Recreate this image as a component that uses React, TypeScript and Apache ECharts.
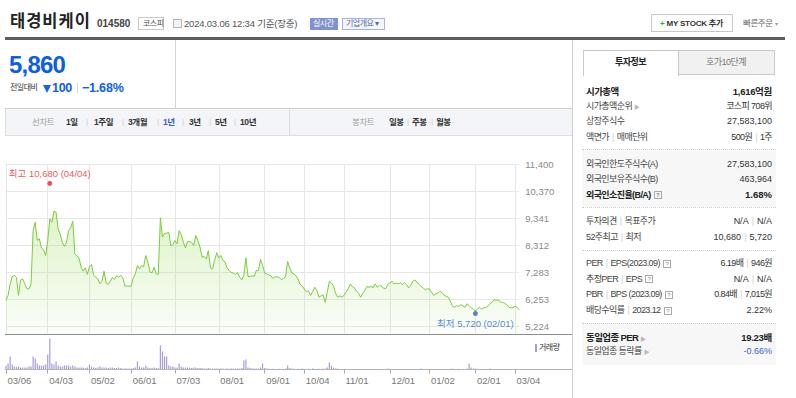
import React, { useEffect, useRef } from "react";
import * as echarts from "echarts";

// ---------- data ----------
const startDate = "2023-03-06";
const endDate = "2024-03-06";
const marketHolidays = [
  "2023-05-01", "2023-05-05", "2023-05-29", "2023-06-06", "2023-08-15",
  "2023-09-28", "2023-09-29", "2023-10-02", "2023-10-03", "2023-10-09",
  "2023-12-25", "2023-12-29", "2024-01-01", "2024-02-09", "2024-02-12", "2024-03-01",
];

const closePrices = [
  6220, 6410, 6850, 7130, 7170, 7100, 6410, 7000, 7040, 6850,
  6660, 6660, 6830, 8880, 9200, 8500, 8570, 8220, 8150, 7930,
  8500, 9330, 9200, 9620, 9580, 8950, 8730, 8440, 8270, 8440,
  8880, 8990, 9240, 7990, 7920, 7830, 7490, 7330, 7460, 7210,
  7510, 7590, 7170, 7100, 7040, 6850, 6950, 7330, 6880, 6830,
  6950, 7100, 7020, 7160, 7100, 7180, 7080, 6770, 6770, 6760,
  6760, 7080, 7230, 7550, 7420, 7550, 7510, 7930, 7680, 7300,
  7270, 7490, 7230, 7210, 9370, 8630, 8780, 8780, 8820, 8310,
  8350, 8500, 8380, 8880, 8730, 8440, 8220, 8460, 8460, 8430,
  8310, 8690, 8500, 8250, 7870, 7890, 7800, 8120, 7460, 7420,
  7740, 8040, 7840, 7930, 7740, 7680, 7460, 7360, 7280, 7260,
  7210, 7280, 7100, 7000, 7170, 7840, 7130, 7130, 7160, 7130,
  7360, 7360, 7780, 7550, 7260, 7230, 7190, 7160, 7050, 7120,
  7120, 7090, 7020, 7040, 7140, 7710, 7460, 7260, 7230, 7160,
  7040, 6830, 6770, 6650, 6550, 6580, 6410, 6560, 6720, 6600,
  6340, 6390, 6430, 6150, 6530, 6950, 6880, 6770, 6490, 6340,
  6390, 6340, 6410, 6530, 6660, 6840, 6750, 6700, 6570, 6490,
  6340, 6490, 6600, 6750, 6720, 6750, 6700, 6850, 6720, 6790,
  6750, 6690, 6660, 6840, 6880, 6950, 6850, 6880, 6850, 6880,
  6830, 6900, 6830, 6700, 6790, 6950, 7000, 6910, 6830, 6750,
  6700, 6620, 6670, 6650, 6530, 6410, 6470, 6490, 6570, 6520,
  6420, 6370, 6340, 6190, 6000, 5960, 6020, 5990, 6060, 6010,
  5960, 6090, 6020, 5940, 5880, 5810, 5900, 5960, 5880, 5940,
  5940, 6010, 6090, 6150, 6240, 6220, 6240, 6150, 6150, 6110,
  6060, 5960, 5940, 5940, 6000, 5960, 5860,
];

// volume, thousand shares
const volumes = [
  160, 240, 520, 200, 120, 100, 120, 80, 80, 80,
  80, 120, 120, 520, 440, 240, 160, 160, 160, 200,
  600, 1240, 240, 200, 320, 160, 120, 120, 160, 160,
  160, 120, 160, 120, 80, 80, 80, 80, 60, 80,
  200, 120, 80, 60, 80, 120, 80, 80, 80, 60,
  80, 80, 60, 60, 80, 60, 40, 40, 40, 40,
  40, 60, 80, 320, 120, 80, 80, 160, 80, 60,
  60, 80, 60, 60, 960, 720, 520, 520, 160, 120,
  120, 80, 80, 240, 120, 80, 80, 80, 80, 60,
  80, 80, 60, 60, 60, 40, 40, 60, 40, 40,
  40, 40, 40, 40, 40, 32, 40, 32, 40, 40,
  40, 40, 40, 60, 360, 400, 80, 60, 40, 40,
  40, 40, 80, 240, 60, 40, 32, 24, 28, 24,
  24, 28, 24, 24, 40, 160, 60, 40, 32, 24,
  28, 24, 40, 24, 24, 28, 24, 40, 24, 24,
  28, 24, 32, 40, 80, 280, 160, 80, 40, 40,
  20, 24, 20, 20, 24, 20, 20, 24, 20, 20,
  20, 24, 20, 20, 20, 24, 20, 20, 20, 24,
  20, 20, 24, 40, 20, 20, 24, 20, 20, 20,
  24, 20, 20, 20, 24, 20, 20, 20, 20, 40,
  20, 20, 24, 20, 20, 24, 20, 20, 20, 24,
  20, 20, 24, 28, 32, 24, 24, 28, 24, 20,
  24, 40, 240, 80, 40, 40, 28, 24, 20, 24,
  20, 24, 40, 24, 20, 20, 24, 20, 20, 20,
  24, 20, 20, 24, 20, 20, 20,
];

const xTickLabels = ["03/06", "04/03", "05/02", "06/01", "07/03", "08/01", "09/01", "10/04", "11/01", "12/01", "01/02", "02/01", "03/04"];
const yTickLabels = ["5,224", "6,253", "7,283", "8,312", "9,341", "10,370", "11,400"];
const yAxisMin = 5224;
const yAxisMax = 11400;
const highMark = ["2023-04-04", 10680] as const;
const lowMark = ["2024-02-01", 5720] as const;

// ---------- helpers ----------
const FONT = '"Liberation Sans", Arial, "Noto Sans CJK KR", sans-serif';

function tradingDays(): string[] {
  const out: string[] = [];
  const d = new Date(startDate + "T00:00:00Z");
  const end = new Date(endDate + "T00:00:00Z").getTime();
  while (d.getTime() <= end) {
    const wd = d.getUTCDay();
    const iso = d.toISOString().slice(0, 10);
    if (wd !== 0 && wd !== 6 && !marketHolidays.includes(iso)) out.push(iso);
    d.setUTCDate(d.getUTCDate() + 1);
  }
  return out;
}
const mmdd = (iso: string) => iso.slice(5, 7) + "/" + iso.slice(8, 10);
const fmt = (v: number) => v.toLocaleString("en-US");

function buildOption() {
  const cats = tradingDays();
  const tickSet = new Set<number>();
  cats.forEach((c, i) => {
    const monthStart = i === 0 || c.slice(5, 7) !== cats[i - 1].slice(5, 7);
    if (monthStart && xTickLabels.includes(mmdd(c))) tickSet.add(i);
  });
  const isTick = (i: number) => tickSet.has(i);

  // layout of price grid
  const gridTop = 164.5;
  const labeledH = 162;
  const extraBottom = 7;
  const perPx = (yAxisMax - yAxisMin) / labeledH;
  const dataMin = yAxisMin - extraBottom * perPx;
  const gl = 6;
  const gw = 513.2;

  const highIdx = cats.indexOf(highMark[0]);
  const lowIdx = cats.indexOf(lowMark[0]);
  const gridLine = "#e7e7e7";

  return {
    animation: false,
    textStyle: { fontFamily: FONT },
    grid: [
      { left: gl, top: gridTop, width: gw, height: labeledH + extraBottom, outerBoundsMode: "none" },
      { left: gl, top: 337.5, width: gw, height: 32, outerBoundsMode: "none" },
      { left: gl, top: gridTop, width: gw, height: labeledH, outerBoundsMode: "none" },
    ],
    xAxis: [
      {
        gridIndex: 0, type: "category", data: cats, boundaryGap: false,
        axisLine: { show: false }, axisTick: { show: false }, axisLabel: { show: false },
        splitLine: { show: true, interval: (i: number) => isTick(i), lineStyle: { color: gridLine, width: 1 } },
      },
      {
        gridIndex: 1, type: "category", data: cats, boundaryGap: false,
        axisLine: { show: false },
        axisTick: { show: true, interval: (i: number) => isTick(i), length: 4, lineStyle: { color: "#a8a8a8" } },
        axisLabel: {
          show: true, interval: (i: number) => isTick(i), formatter: (v: string) => mmdd(v),
          align: "left", margin: 6, padding: [0, 0, 0, 1.5], color: "#777", fontSize: 9.5, fontFamily: FONT,
        },
        splitLine: { show: false },
      },
      { gridIndex: 2, type: "value", min: 0, max: 1, show: false },
    ],
    yAxis: [
      { gridIndex: 0, type: "value", min: dataMin, max: yAxisMax, show: false },
      { gridIndex: 1, type: "value", min: 0, max: 1280, show: false },
      {
        gridIndex: 2, type: "value", position: "right", min: 0, max: yTickLabels.length - 1, interval: 1,
        axisLine: { show: false }, axisTick: { show: false },
        axisLabel: {
          show: true, margin: 6, color: "#8a8a8a", fontSize: 9.5, fontFamily: FONT,
          showMinLabel: true, showMaxLabel: true,
          formatter: (v: number) => yTickLabels[Math.round(v)] ?? "",
        },
        splitLine: { show: true, lineStyle: { color: gridLine, width: 1 } },
      },
    ],
    series: [
      {
        type: "line", xAxisIndex: 0, yAxisIndex: 0, data: closePrices, symbol: "none",
        lineStyle: { color: "#7ccd3c", width: 1 },
        areaStyle: {
          color: new echarts.graphic.LinearGradient(0, 0, 0, 1, [
            { offset: 0, color: "rgba(140,215,70,0.42)" },
            { offset: 1, color: "rgba(140,215,70,0.05)" },
          ]),
        },
        z: 2,
      },
      {
        type: "bar", xAxisIndex: 1, yAxisIndex: 1, data: volumes, barWidth: 1.2,
        itemStyle: { color: "#aa9bdf" },
      },
      {
        type: "scatter", xAxisIndex: 0, yAxisIndex: 0, data: [[highIdx, highMark[1]]], symbolSize: 5, z: 5,
        itemStyle: { color: "#ee1f26" },
        label: {
          show: true, position: "top", distance: 3, color: "#ee1f26", fontSize: 9.5, fontFamily: FONT,
          formatter: () => `최고 ${fmt(highMark[1])} (${mmdd(highMark[0])})`,
        },
      },
      {
        type: "scatter", xAxisIndex: 0, yAxisIndex: 0, data: [[lowIdx, lowMark[1]]], symbolSize: 5, z: 5,
        itemStyle: { color: "#2a66d6" },
        label: {
          show: true, position: "bottom", distance: 3, color: "#2a66d6", fontSize: 9.5, fontFamily: FONT,
          formatter: () => `최저 ${fmt(lowMark[1])} (${mmdd(lowMark[0])})`,
        },
      },
    ],
  };
}

// ---------- page pieces ----------
type TP = { x: number; y: number; size?: number; color?: string; bold?: boolean; right?: boolean; ls?: number; children: React.ReactNode };
function T({ x, y, size = 9, color = "#333", bold = false, right = false, ls = 0, children }: TP) {
  const st: React.CSSProperties = {
    position: "absolute", top: y - size * 0.6, height: size * 1.2, lineHeight: `${size * 1.2}px`,
    fontSize: size, color, fontWeight: bold ? 700 : 400, whiteSpace: "nowrap", fontFamily: FONT, letterSpacing: ls,
  };
  if (right) st.right = 796 - x;
  else st.left = x;
  return <div style={st}>{children}</div>;
}
function B({ x, y, w, h, s }: { x: number; y: number; w: number; h: number; s?: React.CSSProperties }) {
  return <div style={{ position: "absolute", left: x, top: y, width: w, height: h, boxSizing: "border-box", ...s }} />;
}
const Sep = () => <span style={{ color: "#d0d0d0", margin: "0 3px" }}>|</span>;
const Q = () => (
  <span style={{
    display: "inline-block", width: 8, height: 8, boxSizing: "border-box", border: "1px solid #aaa", fontSize: 6,
    lineHeight: "6px", textAlign: "center", color: "#888", marginLeft: 3, verticalAlign: "middle",
  }}>?</span>
);
const Arrow = () => <span style={{ color: "#bbb", fontSize: 6, marginLeft: 2 }}>▶</span>;

export default function App() {
  const ref = useRef<HTMLDivElement>(null);
  useEffect(() => {
    const chart = echarts.init(ref.current!, null, { renderer: "svg" });
    chart.setOption(buildOption() as any);
    return () => chart.dispose();
  }, []);

  const L = 586; // panel label x
  const R = 772; // panel value right edge
  const PS = 9; // panel font size
  const pls = -0.6;

  return (
    <div style={{ position: "absolute", left: 0, top: 0, width: 796, height: 398, background: "#fff", overflow: "hidden", fontFamily: FONT }}>
      <div ref={ref} style={{ position: "absolute", left: 0, top: 0, width: 796, height: 398 }} />

      {/* header */}
      <T x={10} y={21.5} size={16.5} color="#222" bold ls={1}>태경비케이</T>
      <T x={97} y={24.3} size={10} color="#444" bold>014580</T>
      <B x={138} y={17} w={26} h={13} s={{ border: "1px solid #c9c9c9" }} />
      <T x={143} y={23.5} size={8} color="#555" ls={-0.5}>코스피</T>
      <B x={173} y={19} w={9} h={9} s={{ border: "1px solid #b5b5b5", background: "#f4f4f4" }} />
      <T x={184} y={23.7} size={9.5} color="#555" ls={-0.2}>2024.03.06 12:34 기준(장중)</T>
      <B x={310} y={18} w={28} h={12} s={{ background: "#8193cf" }} />
      <T x={313} y={24} size={8} color="#fff" ls={-0.5}>실시간</T>
      <B x={342} y={18} w={43} h={12} s={{ border: "1px solid #aab3dc", background: "#f6f7fc" }} />
      <T x={346} y={24} size={8} color="#5466a8" ls={-0.5}>기업개요 ▾</T>

      <B x={651} y={14} w={82} h={18} s={{ border: "1px solid #c8c8c8", background: "#fff" }} />
      <T x={660} y={23.3} size={8} color="#333" bold ls={-0.2}><span style={{ color: "#2db400" }}>+</span> MY STOCK 추가</T>
      <T x={743} y={23.3} size={8.5} color="#666" ls={-0.4}>빠른주문 <span style={{ fontSize: 6, color: "#999" }}>▾</span></T>

      <B x={5} y={37} w={780} h={3} s={{ background: "#5d5d5d" }} />

      {/* price box */}
      <B x={175} y={40} w={1} h={68} s={{ background: "#d3d3d3" }} />
      <T x={9} y={65.5} size={24} color="#0d5ee6" bold ls={-0.8}>5,860</T>
      <T x={10} y={88} size={8} color="#333" ls={-0.5}>전일대비</T>
      <B x={43} y={84.5} w={0} h={0} s={{ borderLeft: "4px solid transparent", borderRight: "4px solid transparent", borderTop: "8px solid #1d63de" }} />
      <T x={52} y={88} size={12.5} color="#0d5ee6" bold ls={-0.3}>100</T>
      <B x={77} y={83} w={1} h={10} s={{ background: "#d6d6d6" }} />
      <T x={82} y={88} size={12.5} color="#0d5ee6" bold ls={-0.2}>−1.68%</T>

      {/* tab row */}
      <B x={5} y={108} w={568} h={28} s={{ background: "#f4f5f8", borderTop: "1px solid #cfcfcf", borderBottom: "1px solid #dedede", borderLeft: "1px solid #dedede" }} />
      <B x={289} y={109} w={1} h={26} s={{ background: "#dcdcdc" }} />
      <T x={32} y={122} size={8.5} color="#9a9a9a" ls={-0.4}>선차트</T>
      <T x={66} y={122} size={8.5} color="#333" bold ls={-0.4}>1일</T>
      <T x={86} y={122} size={8} color="#ccc">|</T>
      <T x={94} y={122} size={8.5} color="#333" bold ls={-0.4}>1주일</T>
      <T x={122} y={122} size={8} color="#ccc">|</T>
      <T x={128} y={122} size={8.5} color="#333" bold ls={-0.4}>3개월</T>
      <T x={157} y={122} size={8} color="#ccc">|</T>
      <T x={163} y={122} size={8.5} color="#3c5cc4" bold ls={-0.4}>1년</T>
      <T x={182} y={122} size={8} color="#ccc">|</T>
      <T x={189} y={122} size={8.5} color="#333" bold ls={-0.4}>3년</T>
      <T x={209} y={122} size={8} color="#ccc">|</T>
      <T x={215} y={122} size={8.5} color="#333" bold ls={-0.4}>5년</T>
      <T x={234} y={122} size={8} color="#ccc">|</T>
      <T x={240} y={122} size={8.5} color="#333" bold ls={-0.4}>10년</T>

      <T x={352} y={122} size={8.5} color="#9a9a9a" ls={-0.4}>봉차트</T>
      <T x={389} y={122} size={8.5} color="#333" bold ls={-0.6}>일봉</T>
      <T x={407} y={122} size={8} color="#ccc">|</T>
      <T x={412} y={122} size={8.5} color="#333" bold ls={-0.6}>주봉</T>
      <T x={431} y={122} size={8} color="#ccc">|</T>
      <T x={436} y={122} size={8.5} color="#333" bold ls={-0.6}>월봉</T>

      {/* chart frame lines */}
      <B x={5} y={333.5} w={568} h={1} s={{ background: "#8c8c8c" }} />
      <B x={5} y={369} w={568} h={1} s={{ background: "#b4b4b4" }} />
      <B x={535} y={344} w={2} h={8} s={{ background: "#a797de" }} />
      <T x={539} y={348} size={8} color="#333" ls={-0.5}>거래량</T>

      {/* right panel */}
      <B x={572} y={40} w={1} h={358} s={{ background: "#cfcfcf" }} />
      <B x={583} y={50} w={96} h={26} s={{ border: "1px solid #c9c9c9", borderBottom: "none", background: "#fff" }} />
      <B x={678} y={50} w={97} h={25} s={{ border: "1px solid #c9c9c9", background: "#f1f1f1" }} />
      <T x={615} y={62.5} size={9} color="#222" bold ls={-0.5}>투자정보</T>
      <T x={706} y={62.5} size={9} color="#777" ls={-0.5}>호가10단계</T>

      <T x={L} y={91.7} size={9.5} color="#222" bold ls={pls}>시가총액</T>
      <T x={R} y={91.7} size={9.5} color="#222" bold right ls={-0.3}>1,616억원</T>
      <T x={L} y={106} size={PS} color="#444" ls={pls}>시가총액순위<Arrow /></T>
      <T x={R} y={106} size={PS} color="#333" right ls={pls}>코스피 708위</T>
      <T x={L} y={121} size={PS} color="#444" ls={pls}>상장주식수</T>
      <T x={R} y={121} size={PS} color="#333" right>27,583,100</T>
      <T x={L} y={137} size={PS} color="#444" ls={pls}>액면가<Sep />매매단위</T>
      <T x={R} y={137} size={PS} color="#333" right ls={pls}>500원<Sep />1주</T>
      <B x={582} y={149} w={194} h={1} s={{ borderTop: "1px dotted #cdcdcd" }} />

      <B x={582} y={150} w={194} h={57} s={{ background: "#f7f7f7" }} />
      <T x={L} y={164.3} size={PS} color="#444" ls={pls}>외국인한도주식수(A)</T>
      <T x={R} y={164.3} size={PS} color="#333" right>27,583,100</T>
      <T x={L} y={179} size={PS} color="#444" ls={pls}>외국인보유주식수(B)</T>
      <T x={R} y={179} size={PS} color="#333" right>463,964</T>
      <T x={L} y={195} size={PS} color="#222" bold ls={pls}>외국인소진율(B/A)<Q /></T>
      <T x={R} y={195} size={9.5} color="#222" bold right>1.68%</T>
      <B x={582} y={207} w={194} h={1} s={{ borderTop: "1px dotted #cdcdcd" }} />

      <T x={L} y={221.7} size={PS} color="#444" ls={pls}>투자의견<Sep />목표주가</T>
      <T x={R} y={221.7} size={PS} color="#333" right>N/A<Sep />N/A</T>
      <T x={L} y={237} size={PS} color="#444" ls={pls}>52주최고<Sep />최저</T>
      <T x={R} y={237} size={PS} color="#333" right>10,680<Sep />5,720</T>
      <B x={582} y={249.5} w={194} h={1} s={{ borderTop: "1px dotted #cdcdcd" }} />

      <T x={L} y={263.3} size={PS} color="#444" ls={pls}>PER<Sep />EPS(2023.09)<Q /></T>
      <T x={R} y={263.3} size={PS} color="#333" right ls={pls}>6.19배<Sep />946원</T>
      <T x={L} y={279} size={PS} color="#444" ls={pls}>추정PER<Sep />EPS<Q /></T>
      <T x={R} y={279} size={PS} color="#333" right>N/A<Sep />N/A</T>
      <T x={L} y={294.3} size={PS} color="#444" ls={pls}>PBR<Sep />BPS (2023.09)<Q /></T>
      <T x={R} y={294.3} size={PS} color="#333" right ls={pls}>0.84배<Sep />7,015원</T>
      <T x={L} y={310.7} size={PS} color="#444" ls={pls}>배당수익률<Sep />2023.12<Q /></T>
      <T x={R} y={310.7} size={PS} color="#333" right>2.22%</T>
      <B x={582} y={322.5} w={194} h={1} s={{ borderTop: "1px dotted #cdcdcd" }} />

      <B x={582} y={323.5} w={194} h={41} s={{ background: "#f7f7f7" }} />
      <T x={L} y={337.7} size={9.5} color="#222" bold ls={pls}>동일업종 PER<Arrow /></T>
      <T x={R} y={337.7} size={9.5} color="#222" bold right ls={-0.3}>19.23배</T>
      <T x={L} y={351.7} size={PS} color="#444" ls={pls}>동일업종 등락률<Arrow /></T>
      <T x={R} y={351.7} size={PS} color="#3b5fd0" right>-0.66%</T>
    </div>
  );
}
